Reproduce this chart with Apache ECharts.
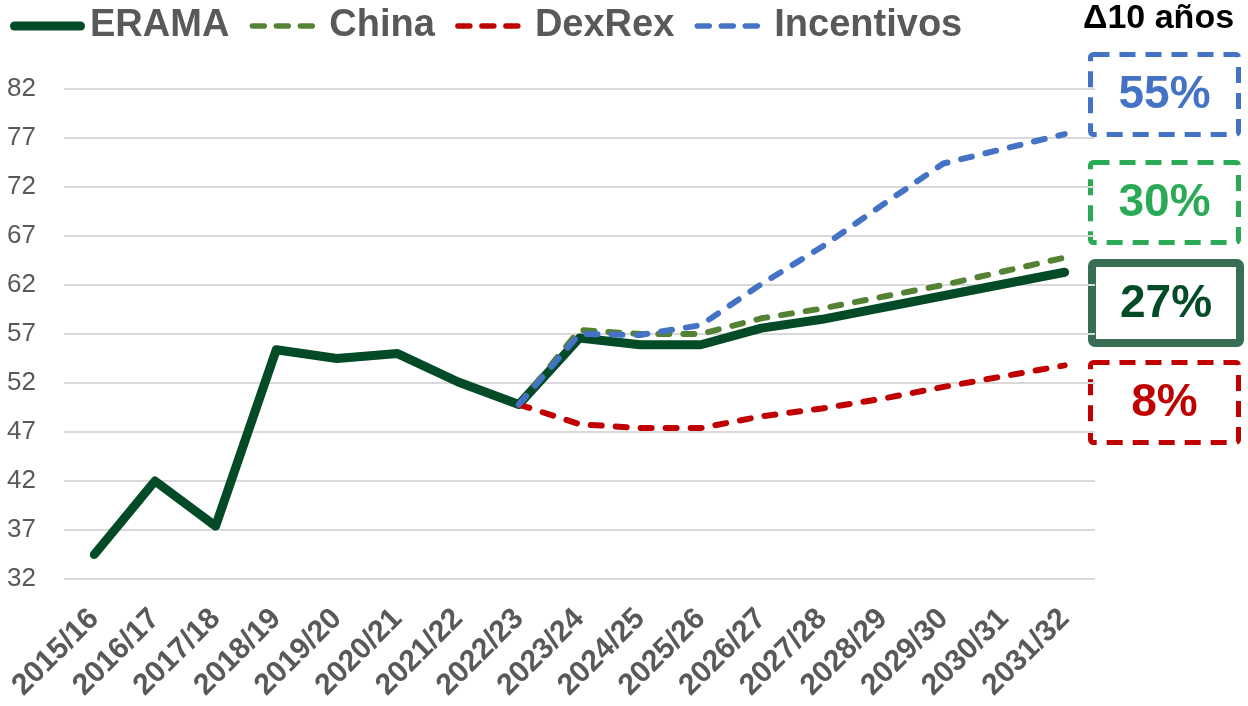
<!DOCTYPE html>
<html>
<head>
<meta charset="utf-8">
<script src="https://cdn.jsdelivr.net/npm/echarts@6/dist/echarts.min.js"></script>
<style>
  html, body { margin: 0; padding: 0; background: #fff; }
  #chart { width: 1248px; height: 706px; }
</style>
</head>
<body>
<div id="chart"></div>
<script>
// categorias (campañas)
var categories = ['2015/16', '2016/17', '2017/18', '2018/19', '2019/20', '2020/21', '2021/22', '2022/23',
  '2023/24', '2024/25', '2025/26', '2026/27', '2027/28', '2028/29', '2029/30', '2030/31', '2031/32']

// series
var erama = [34.5, 42.0, 37.4, 55.4, 54.5, 55.0, 52.1, 49.8, 56.6, 55.9, 55.9, 57.6, 58.5, 59.7, 60.9, 62.1, 63.3]
var china = [null, null, null, null, null, null, null, 49.8, 57.4, 57.0, 57.0, 58.6, 59.6, 60.8, 62.0, 63.4, 64.8]
var dexrex = [null, null, null, null, null, null, null, 49.8, 47.8, 47.4, 47.4, 48.6, 49.4, 50.4, 51.6, 52.7, 53.8]
var incentivos = [null, null, null, null, null, null, null, 49.8, 57.0, 56.9, 57.9, 62.1, 65.9, 70.2, 74.4, 75.9, 77.4]

// variacion a 10 años
var deltas = ['55%', '30%', '27%', '8%']

var grey = '#595959'
var font = 'Liberation Sans, Arial, sans-serif'

// iconos de leyenda (linea gruesa y tres guiones)
var solidIcon = 'path://M4.5,0 h66 a4.5,4.5 0 0 1 0,9 h-66 a4.5,4.5 0 0 1 0,-9 Z'
var dashIcon = 'path://M0,0 h0.01 v0.01 h-0.01 Z M74.99,8.99 h0.01 v0.01 h-0.01 Z' +
  ' M3,1.8 h12 a2.7,2.7 0 0 1 0,5.4 h-12 a2.7,2.7 0 0 1 0,-5.4 Z' +
  ' M27,1.8 h12 a2.7,2.7 0 0 1 0,5.4 h-12 a2.7,2.7 0 0 1 0,-5.4 Z' +
  ' M51,1.8 h12 a2.7,2.7 0 0 1 0,5.4 h-12 a2.7,2.7 0 0 1 0,-5.4 Z'

var chart = echarts.init(document.getElementById('chart'))

function dashed(name, data, color) {
  return {
    name: name,
    type: 'line',
    data: data,
    symbol: 'none',
    lineStyle: { color: color, width: 6, type: [11, 14], cap: 'round', join: 'round' },
    itemStyle: { color: color }
  }
}

function box(top, color, textColor, label, solid) {
  return {
    type: 'group',
    left: 1088,
    top: top,
    children: [
      {
        type: 'rect',
        shape: { x: 0, y: 0, width: 148, height: 80, r: 3 },
        style: {
          fill: '#fff',
          stroke: color,
          lineWidth: solid ? 8 : 5,
          lineDash: solid ? null : [16, 10]
        }
      },
      {
        type: 'text',
        x: 74,
        y: 41,
        style: {
          text: label,
          fill: textColor,
          font: 'bold 46px ' + font,
          align: 'center',
          verticalAlign: 'middle'
        }
      }
    ]
  }
}

var option = {
  animation: false,
  grid: { left: 64, right: 153, top: 89, bottom: 127 },
  legend: {
    left: 5,
    top: 2,
    itemWidth: 75,
    itemHeight: 9,
    itemGap: 20,
    textStyle: { color: grey, fontSize: 38, fontWeight: 'bold', fontFamily: font },
    data: [
      { name: 'ERAMA', icon: solidIcon },
      { name: 'China', icon: dashIcon },
      { name: 'DexRex', icon: dashIcon },
      { name: 'Incentivos', icon: dashIcon }
    ]
  },
  xAxis: {
    type: 'category',
    data: categories,
    boundaryGap: true,
    axisLine: { show: false },
    axisTick: { show: false },
    axisLabel: {
      rotate: 45,
      interval: 0,
      margin: 35,
      color: grey,
      fontSize: 30,
      fontWeight: 'bold',
      fontFamily: font
    }
  },
  yAxis: {
    type: 'value',
    min: 32,
    max: 82,
    interval: 5,
    axisLine: { show: false },
    axisTick: { show: false },
    axisLabel: { color: grey, fontSize: 26, fontFamily: font, margin: 28 },
    splitLine: { lineStyle: { color: '#D9D9D9', width: 2 } }
  },
  series: [
    {
      name: 'ERAMA',
      type: 'line',
      data: erama,
      symbol: 'none',
      z: 3,
      lineStyle: { color: '#034A27', width: 9, cap: 'round', join: 'round' },
      itemStyle: { color: '#034A27' }
    },
    dashed('China', china, '#548235'),
    dashed('DexRex', dexrex, '#C00000'),
    dashed('Incentivos', incentivos, '#4472C4')
  ],
  graphic: [
    {
      type: 'text',
      left: 1083,
      top: 2,
      style: { text: 'Δ10 años', fill: '#000', font: 'bold 34px ' + font }
    },
    box(52, '#4472C4', '#4472C4', deltas[0], false),
    box(160, '#2AAA54', '#2AAA54', deltas[1], false),
    box(259, '#386E55', '#034A27', deltas[2], true),
    box(360, '#C00000', '#C00000', deltas[3], false)
  ]
}

chart.setOption(option)
</script>
</body>
</html>
